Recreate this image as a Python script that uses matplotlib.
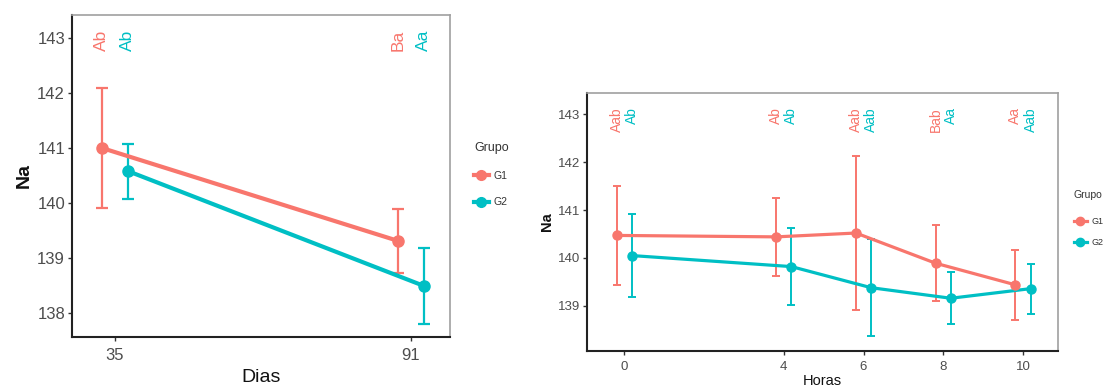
import matplotlib
matplotlib.use("Agg")
import matplotlib.pyplot as plt
from matplotlib.lines import Line2D

# ---------------- data ----------------
groups = ["G1", "G2"]
colors = ["#F8766D", "#00BFC4"]

dias = [35, 91]
dias_mean_g1 = [141.00, 139.31]
dias_err_g1 = [1.10, 0.58]
dias_mean_g2 = [140.58, 138.49]
dias_err_g2 = [0.50, 0.69]
dias_lab_g1 = ["Ab", "Ba"]
dias_lab_g2 = ["Ab", "Aa"]

horas = [0, 4, 6, 8, 10]
horas_mean_g1 = [140.47, 140.44, 140.52, 139.89, 139.44]
horas_err_g1 = [1.03, 0.81, 1.61, 0.79, 0.73]
horas_mean_g2 = [140.05, 139.82, 139.38, 139.16, 139.36]
horas_err_g2 = [0.86, 0.80, 1.01, 0.54, 0.52]
horas_lab_g1 = ["Aab", "Ab", "Aab", "Bab", "Aa"]
horas_lab_g2 = ["Ab", "Ab", "Aab", "Aa", "Aab"]

# ---------------- style ----------------
plt.rcParams["font.family"] = ["Liberation Sans", "DejaVu Sans"]

W, H = 1113, 389
fig = plt.figure(figsize=(W / 100, H / 100), dpi=100)


def px_axes(x0, y0, x1, y1):
    return fig.add_axes([x0 / W, 1 - y1 / H, (x1 - x0) / W, (y1 - y0) / H])


def panel(ax, x, means, errs, labs, dodge, xlim, ylim, yticks, xlabel,
          lw, elw, cap, ms, tick_fs, lab_fs, title_fs, txt_fs, text_y,
          xpad, xlabelpad):
    for gi, (m, e, lab) in enumerate(zip(means, errs, labs)):
        off = -dodge if gi == 0 else dodge
        xs = [v + off for v in x]
        c = colors[gi]
        ax.errorbar(xs, m, yerr=e, color=c, ecolor=c, elinewidth=elw,
                    capsize=cap, capthick=elw, lw=0, zorder=2)
        ax.plot(xs, m, color=c, lw=lw, zorder=3, solid_capstyle="butt")
        ax.plot(xs, m, "o", color=c, ms=ms, zorder=4)
        for xv, t in zip(xs, lab):
            ax.text(xv, text_y, t, rotation=90, ha="center", va="top",
                    color=c, fontsize=txt_fs)
    ax.set_xlim(*xlim)
    ax.set_ylim(*ylim)
    ax.set_xticks(x)
    ax.set_yticks(yticks)
    ax.tick_params(axis="both", labelsize=tick_fs, labelcolor="#4D4D4D",
                   color="#333333", length=3, width=1, pad=2)
    ax.tick_params(axis="x", pad=xpad)
    for s in ["top", "right"]:
        ax.spines[s].set_color("#A0A0A0")
        ax.spines[s].set_linewidth(1.2)
    for s in ["left", "bottom"]:
        ax.spines[s].set_color("#222222")
        ax.spines[s].set_linewidth(1.5)
    ax.set_xlabel(xlabel, fontsize=lab_fs, labelpad=xlabelpad, color="#111111")
    ax.set_ylabel("Na", fontsize=title_fs, fontweight="bold", labelpad=3,
                  color="#111111")


ax1 = px_axes(72, 15, 450, 337)
panel(ax1, dias, [dias_mean_g1, dias_mean_g2], [dias_err_g1, dias_err_g2],
      [dias_lab_g1, dias_lab_g2], 2.46, (26.9, 98.4), (137.56, 143.42),
      [138, 139, 140, 141, 142, 143], "Dias",
      lw=3.0, elw=1.6, cap=4.5, ms=8, tick_fs=12, lab_fs=14, title_fs=14,
      txt_fs=12.5, text_y=143.15, xpad=5, xlabelpad=4)

ax2 = px_axes(587, 93, 1058, 351)
panel(ax2, horas, [horas_mean_g1, horas_mean_g2], [horas_err_g1, horas_err_g2],
      [horas_lab_g1, horas_lab_g2], 0.19, (-0.94, 10.88), (138.06, 143.44),
      [139, 140, 141, 142, 143], "Horas",
      lw=2.3, elw=1.4, cap=3.2, ms=6.5, tick_fs=9.5, lab_fs=10.5, title_fs=10.5,
      txt_fs=10, text_y=143.15, xpad=4, xlabelpad=1)


def add_legend(x_px, y_px, title_fs, fs, ms, lw, spacing):
    handles = [Line2D([], [], color=c, lw=lw, marker="o", ms=ms) for c in colors]
    leg = fig.legend(handles, groups, title="Grupo", loc="upper left",
                     bbox_to_anchor=(x_px / W, 1 - y_px / H), frameon=False,
                     fontsize=fs, title_fontsize=title_fs, handlelength=1.4,
                     handletextpad=0.5, labelspacing=spacing, borderaxespad=0,
                     borderpad=0)
    leg._legend_box.align = "left"
    leg._legend_box.sep = 12
    for t in leg.get_texts():
        t.set_color("#333333")
    leg.get_title().set_color("#333333")
    return leg


add_legend(474, 142, 9, 7.5, 7, 3, 1.6)
add_legend(1074, 190, 7.5, 6.5, 6, 2.3, 1.4)

fig.savefig("out.png", dpi=100, facecolor="white")
